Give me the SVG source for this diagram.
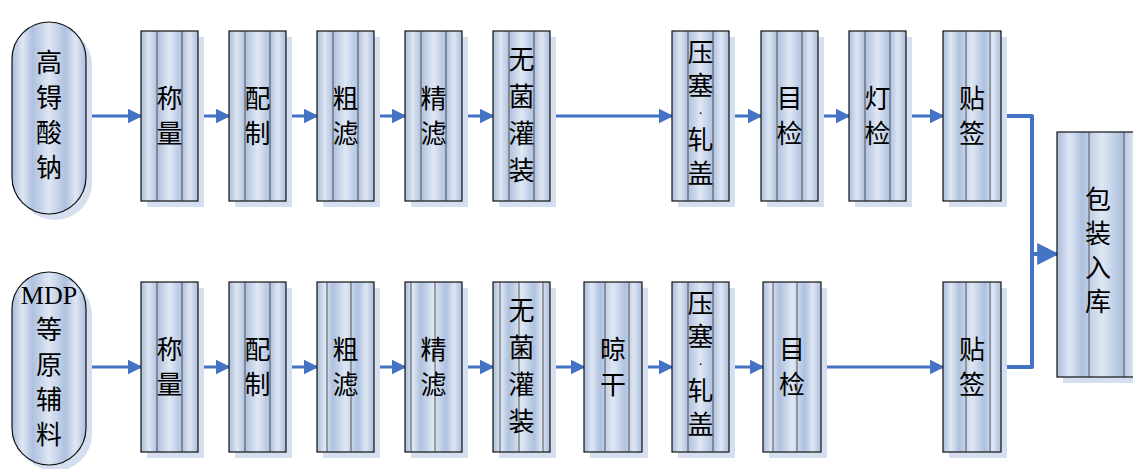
<svg xmlns="http://www.w3.org/2000/svg" width="1133" height="469" viewBox="0 0 1133 469">
<defs>
<linearGradient id="g" x1="0" y1="0" x2="1" y2="0">
<stop offset="0" stop-color="#a9bddd"/>
<stop offset="0.14" stop-color="#dfe7f3"/>
<stop offset="0.28" stop-color="#aec1df"/>
<stop offset="0.5" stop-color="#dfe7f3"/>
<stop offset="0.72" stop-color="#aec1df"/>
<stop offset="0.86" stop-color="#dfe7f3"/>
<stop offset="1" stop-color="#a9bddd"/>
</linearGradient>
<marker id="ah" viewBox="0 0 10 10" refX="9" refY="5" markerWidth="5" markerHeight="5" markerUnits="strokeWidth" orient="auto">
<path d="M0,0 L10,5 L0,10 z" fill="#4472c4"/>
</marker>
<marker id="ah2" viewBox="0 0 10 10" refX="9" refY="5" markerWidth="5.5" markerHeight="5.5" markerUnits="strokeWidth" orient="auto">
<path d="M0,0 L10,5 L0,10 z" fill="#4472c4"/>
</marker>
</defs>
<style>
.sh{fill:#d5dff0}
.bx{fill:url(#g);stroke:#111;stroke-width:1.2}
.ln{stroke:#333;stroke-width:0.8}
.t{font-family:"Liberation Serif","Noto Sans CJK SC",serif;font-size:26px;fill:#000;text-anchor:middle;dominant-baseline:central}
.d{font-size:14px}
.c{fill:none;stroke:#4472c4;stroke-width:3;marker-end:url(#ah)}
.m{fill:none;stroke:#4472c4;stroke-width:4;stroke-linejoin:round}
</style>
<rect width="1133" height="469" fill="#fff"/>

<g id="connectors">
<path class="c" d="M86,116 H141"/>
<path class="c" d="M198,116 H229"/>
<path class="c" d="M286,116 H317"/>
<path class="c" d="M374,116 H405"/>
<path class="c" d="M462,116 H493"/>
<path class="c" d="M550,116 H672"/>
<path class="c" d="M729,116 H761"/>
<path class="c" d="M818,116 H849"/>
<path class="c" d="M906,116 H943"/>
<path class="c" d="M86,367 H141"/>
<path class="c" d="M198,367 H229"/>
<path class="c" d="M286,367 H317"/>
<path class="c" d="M374,367 H405"/>
<path class="c" d="M462,367 H493"/>
<path class="c" d="M550,367 H584"/>
<path class="c" d="M642,367 H672"/>
<path class="c" d="M729,367 H763"/>
<path class="c" d="M821,367 H943"/>
<path class="m" d="M1001,116 H1032 V367 H1001"/>
<path class="m" d="M1032,254 H1057" marker-end="url(#ah2)"/>
</g>

<g id="n-tc">
<rect class="sh" x="18" y="28" width="74" height="192" rx="37"/>
<rect class="bx" x="12" y="22" width="74" height="192" rx="37"/>
<text class="t" x="49"><tspan x="49" y="63">高</tspan><tspan x="49" y="98">锝</tspan><tspan x="49" y="133">酸</tspan><tspan x="49" y="168">钠</tspan></text>
</g>
<g id="n-mdp">
<rect class="sh" x="18" y="278" width="74" height="193" rx="37"/>
<rect class="bx" x="12" y="272" width="74" height="193" rx="37"/>
<text class="t" x="49"><tspan x="49" y="295">MDP</tspan><tspan x="49" y="330">等</tspan><tspan x="49" y="365">原</tspan><tspan x="49" y="400">辅</tspan><tspan x="49" y="435">料</tspan></text>
</g>

<g id="n-a1"><rect class="sh" x="147" y="37" width="57" height="170"/><rect class="bx" x="141" y="31" width="57" height="170"/><path class="ln" d="M157,31V201M182,31V201"/><text class="t"><tspan x="169.5" y="98.5">称</tspan><tspan x="169.5" y="133.5">量</tspan></text></g>
<g id="n-a2"><rect class="sh" x="235" y="37" width="57" height="170"/><rect class="bx" x="229" y="31" width="57" height="170"/><path class="ln" d="M245,31V201M270,31V201"/><text class="t"><tspan x="257.5" y="98.5">配</tspan><tspan x="257.5" y="133.5">制</tspan></text></g>
<g id="n-a3"><rect class="sh" x="323" y="37" width="57" height="170"/><rect class="bx" x="317" y="31" width="57" height="170"/><path class="ln" d="M333,31V201M358,31V201"/><text class="t"><tspan x="345.5" y="98.5">粗</tspan><tspan x="345.5" y="133.5">滤</tspan></text></g>
<g id="n-a4"><rect class="sh" x="411" y="37" width="57" height="170"/><rect class="bx" x="405" y="31" width="57" height="170"/><path class="ln" d="M421,31V201M446,31V201"/><text class="t"><tspan x="433.5" y="98.5">精</tspan><tspan x="433.5" y="133.5">滤</tspan></text></g>
<g id="n-a5"><rect class="sh" x="499" y="37" width="57" height="170"/><rect class="bx" x="493" y="31" width="57" height="170"/><path class="ln" d="M509,31V201M534,31V201"/><text class="t"><tspan x="521.5" y="60">无</tspan><tspan x="521.5" y="97">菌</tspan><tspan x="521.5" y="134">灌</tspan><tspan x="521.5" y="171">装</tspan></text></g>
<g id="n-a6"><rect class="sh" x="678" y="37" width="57" height="170"/><rect class="bx" x="672" y="31" width="57" height="170"/><path class="ln" d="M688,31V201M713,31V201"/><text class="t"><tspan x="700.5" y="53">压</tspan><tspan x="700.5" y="86">塞</tspan><tspan class="d" x="700.5" y="113">·</tspan><tspan x="700.5" y="140">轧</tspan><tspan x="700.5" y="174">盖</tspan></text></g>
<g id="n-a7"><rect class="sh" x="767" y="37" width="57" height="170"/><rect class="bx" x="761" y="31" width="57" height="170"/><path class="ln" d="M777,31V201M802,31V201"/><text class="t"><tspan x="789.5" y="98.5">目</tspan><tspan x="789.5" y="133.5">检</tspan></text></g>
<g id="n-a8"><rect class="sh" x="855" y="37" width="57" height="170"/><rect class="bx" x="849" y="31" width="57" height="170"/><path class="ln" d="M865,31V201M890,31V201"/><text class="t"><tspan x="877.5" y="98.5">灯</tspan><tspan x="877.5" y="133.5">检</tspan></text></g>
<g id="n-a9"><rect class="sh" x="949" y="37" width="58" height="170"/><rect class="bx" x="943" y="31" width="58" height="170"/><path class="ln" d="M966,31V201M990,31V201"/><text class="t"><tspan x="972" y="98.5">贴</tspan><tspan x="972" y="133.5">签</tspan></text></g>

<g id="n-b1"><rect class="sh" x="147" y="288" width="57" height="170"/><rect class="bx" x="141" y="282" width="57" height="170"/><path class="ln" d="M157,282V452M182,282V452"/><text class="t"><tspan x="169.5" y="349.5">称</tspan><tspan x="169.5" y="384.5">量</tspan></text></g>
<g id="n-b2"><rect class="sh" x="235" y="288" width="57" height="170"/><rect class="bx" x="229" y="282" width="57" height="170"/><path class="ln" d="M245,282V452M270,282V452"/><text class="t"><tspan x="257.5" y="349.5">配</tspan><tspan x="257.5" y="384.5">制</tspan></text></g>
<g id="n-b3"><rect class="sh" x="323" y="288" width="57" height="170"/><rect class="bx" x="317" y="282" width="57" height="170"/><path class="ln" d="M327,282V452M351,282V452"/><text class="t"><tspan x="345.5" y="349.5">粗</tspan><tspan x="345.5" y="384.5">滤</tspan></text></g>
<g id="n-b4"><rect class="sh" x="411" y="288" width="57" height="170"/><rect class="bx" x="405" y="282" width="57" height="170"/><path class="ln" d="M411,282V452M435,282V452"/><text class="t"><tspan x="433.5" y="349.5">精</tspan><tspan x="433.5" y="384.5">滤</tspan></text></g>
<g id="n-b5"><rect class="sh" x="499" y="288" width="57" height="170"/><rect class="bx" x="493" y="282" width="57" height="170"/><path class="ln" d="M500,282V452M519,282V452M543,282V452"/><text class="t"><tspan x="521.5" y="311">无</tspan><tspan x="521.5" y="348">菌</tspan><tspan x="521.5" y="385">灌</tspan><tspan x="521.5" y="422">装</tspan></text></g>
<g id="n-b6"><rect class="sh" x="590" y="288" width="58" height="170"/><rect class="bx" x="584" y="282" width="58" height="170"/><path class="ln" d="M605,282V452M629,282V452"/><text class="t"><tspan x="613" y="349.5">晾</tspan><tspan x="613" y="384.5">干</tspan></text></g>
<g id="n-b7"><rect class="sh" x="678" y="288" width="57" height="170"/><rect class="bx" x="672" y="282" width="57" height="170"/><path class="ln" d="M688,282V452M713,282V452"/><text class="t"><tspan x="700.5" y="304">压</tspan><tspan x="700.5" y="337">塞</tspan><tspan class="d" x="700.5" y="364">·</tspan><tspan x="700.5" y="391">轧</tspan><tspan x="700.5" y="425">盖</tspan></text></g>
<g id="n-b8"><rect class="sh" x="769" y="288" width="58" height="170"/><rect class="bx" x="763" y="282" width="58" height="170"/><path class="ln" d="M773,282V452M797,282V452"/><text class="t"><tspan x="792" y="349.5">目</tspan><tspan x="792" y="384.5">检</tspan></text></g>
<g id="n-b9"><rect class="sh" x="949" y="288" width="58" height="170"/><rect class="bx" x="943" y="282" width="58" height="170"/><path class="ln" d="M966,282V452M990,282V452"/><text class="t"><tspan x="972" y="349.5">贴</tspan><tspan x="972" y="384.5">签</tspan></text></g>

<g id="n-pack"><rect class="sh" x="1063" y="138" width="90" height="245"/><rect class="bx" x="1057" y="132" width="90" height="245"/><path class="ln" d="M1089,132V377M1124,132V377"/><text class="t"><tspan x="1098" y="200">包</tspan><tspan x="1098" y="234">装</tspan><tspan x="1098" y="268">入</tspan><tspan x="1098" y="302">库</tspan></text></g>
</svg>
